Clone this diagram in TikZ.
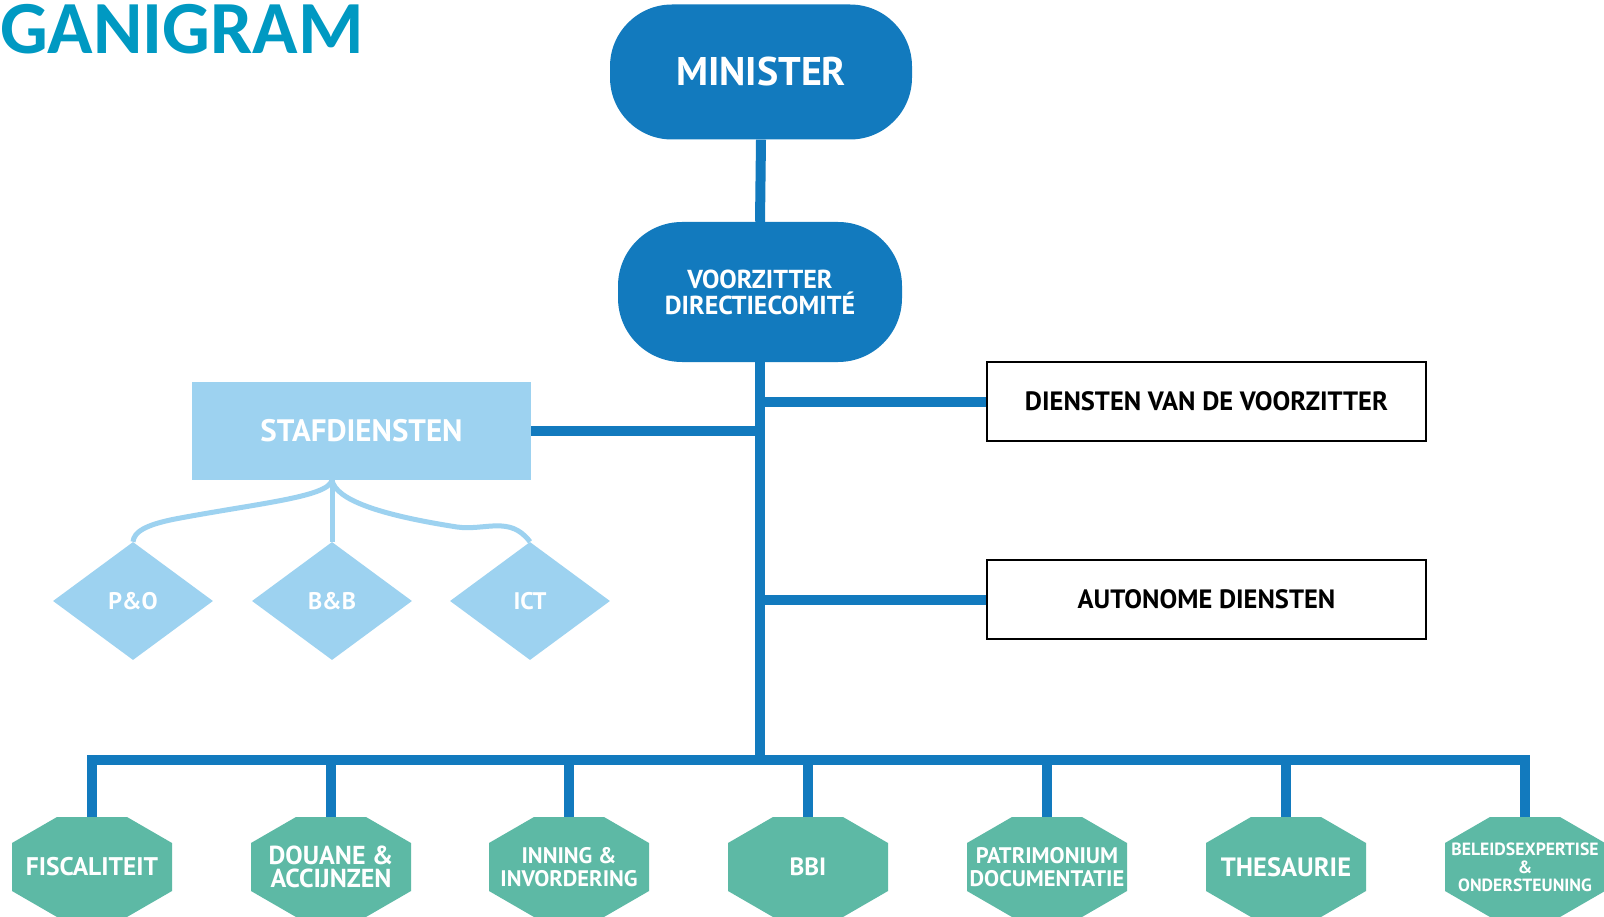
\documentclass[tikz,border=0pt]{standalone}
\usepackage{fontspec}
\setmainfont{PT Sans}
\newfontfamily\titlefont{Carlito}
\usetikzlibrary{shapes.geometric,calc}
\definecolor{dblue}{RGB}{18,122,190}
\definecolor{lblue}{RGB}{157,210,240}
\definecolor{tealc}{RGB}{93,185,165}
\definecolor{titleblue}{RGB}{0,153,194}
\newcommand\fsz[2]{\fontsize{#1}{#2}\selectfont}
\begin{document}
\begin{tikzpicture}[x=1pt,y=-1pt,
  pill/.style={fill=dblue, text=white, align=center, inner sep=0},
  conn/.style={draw=dblue, line width=10},
  lcurve/.style={draw=lblue, line width=5},
  wbox/.style={draw=black, line width=1.5, fill=white, minimum width=439, minimum height=79, inner sep=0, font=\bfseries\fsz{26.5}{26.5}},
  dia/.style={diamond, fill=lblue, minimum width=160, minimum height=118, aspect=1.356, inner sep=0, text=white, font=\bfseries\fsz{24}{24}},
  octa/.style={minimum width=160, minimum height=100, inner sep=0, align=center, text=white,
    path picture={\fill[tealc]
      ($(path picture bounding box.north west)+(45,0)$) --
      ($(path picture bounding box.north east)+(-45,0)$) --
      ($(path picture bounding box.north east)+(0,26)$) --
      ($(path picture bounding box.south east)+(0,-26)$) --
      ($(path picture bounding box.south east)+(-45,0)$) --
      ($(path picture bounding box.south west)+(45,0)$) --
      ($(path picture bounding box.south west)+(0,-26)$) --
      ($(path picture bounding box.north west)+(0,26)$) -- cycle;}}
]
\useasboundingbox (0,0) rectangle (1604,917);
\fill[white] (0,0) rectangle (1604,917);

% title
\node[anchor=base west, inner sep=0, text=titleblue, font=\titlefont\bfseries\fsz{75}{75}] (title) at (0,54) {GANIGRAM};

% top pills
\node[pill, minimum width=302, minimum height=135, rounded corners=62, font=\bfseries\fsz{40}{40}] (min) at (761,72) {MINISTER};
\node[pill, minimum width=284, minimum height=140, rounded corners=64, font=\bfseries\fsz{26}{26}] (vz) at (760,292) {VOORZITTER\\DIRECTIECOMITÉ};

% right boxes
\node[wbox] (dv) at (1206.5,401.5) {DIENSTEN VAN DE VOORZITTER};
\node[wbox] (ad) at (1206.5,599.5) {AUTONOME DIENSTEN};

% stafdiensten
\node[fill=lblue, minimum width=339, minimum height=98, inner sep=0, text=white, font=\bfseries\fsz{31}{31}] (staf) at (361.5,431) {STAFDIENSTEN};
\node[dia] (po) at (133,601) {P\&O};
\node[dia] (bb) at (332,601) {B\&B};
\node[dia] (ict) at (530,601) {ICT};

% bottom octagons
\node[octa, font=\bfseries\fsz{25.5}{25}] (o1) at (92,867) {FISCALITEIT};
\node[octa, font=\bfseries\fsz{26}{23.5}] (o2) at (331,867) {DOUANE \&\\ACCIJNZEN};
\node[octa, font=\bfseries\fsz{22.5}{23}] (o3) at (569,867) {INNING \&\\INVORDERING};
\node[octa, font=\bfseries\fsz{25}{25}] (o4) at (808,867) {BBI};
\node[octa, font=\bfseries\fsz{22.5}{23}] (o5) at (1047,867) {PATRIMONIUM\\DOCUMENTATIE};
\node[octa, font=\bfseries\fsz{26.5}{26}] (o6) at (1286,867) {THESAURIE};
\node[octa, font=\bfseries\fsz{17.7}{18}] (o7) at (1525,867) {BELEIDSEXPERTISE\\\&\\ONDERSTEUNING};

% connectors
\coordinate (busc) at (760,760);
\draw[conn] (min.south) -- (vz.north);
\draw[conn] (vz.south) -- (busc);
\draw[conn] (dv.west) -- (dv.west -| vz.south);
\draw[conn] (ad.west) -- (ad.west -| vz.south);
\draw[conn] (staf.east) -- (staf.east -| vz.south);
\draw[conn, line join=miter] (o1.north) -- (o1.north |- busc) -- (o7.north |- busc) -- (o7.north);
\foreach \n in {o2,o3,o4,o5,o6}{
  \draw[conn] (\n.north) -- (\n.north |- busc);
}

% stafdiensten curves
\coordinate (sj) at (bb.north |- staf.south);
\draw[lcurve] (sj) -- (bb.north);
\draw[lcurve] (sj) .. controls (328,497) and (260,503) .. (175,519) .. controls (145,525) and (134,532) .. (po.north);
\draw[lcurve] (sj) .. controls (336,500) and (380,515) .. (457,527) .. controls (485,531) and (510,515) .. (ict.north);
\end{tikzpicture}
\end{document}
